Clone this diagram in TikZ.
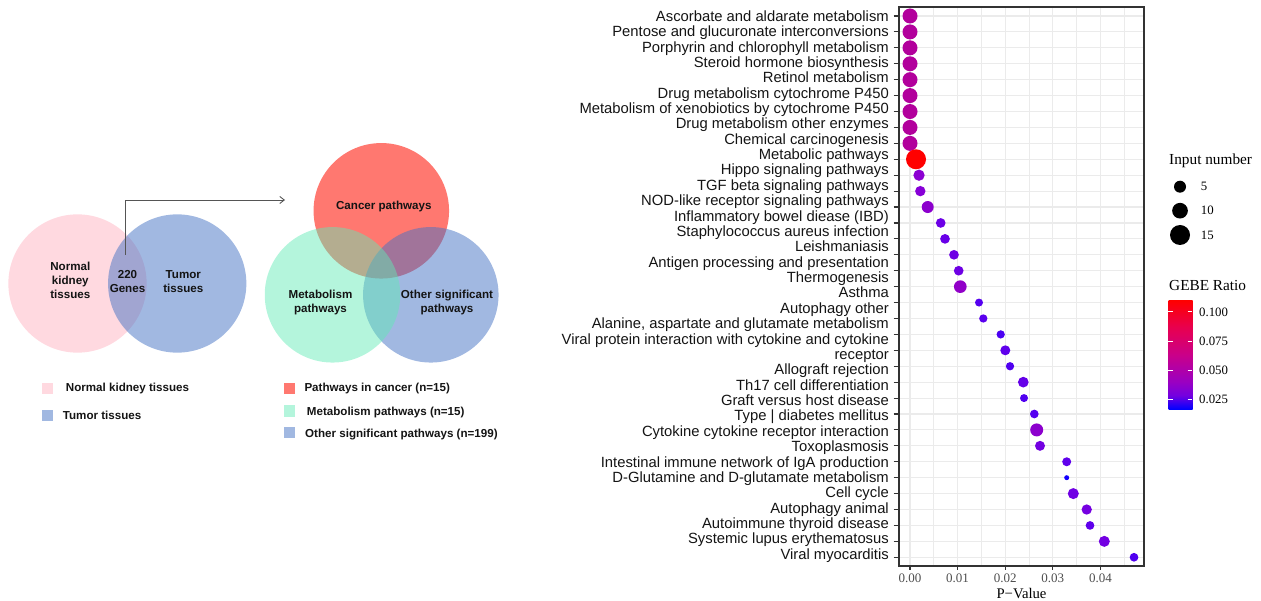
\documentclass[tikz,border=0pt]{standalone}
\usepackage{fontspec}
\setmainfont{Liberation Serif}
\newfontfamily\arialf{Liberation Sans}
\usetikzlibrary{arrows.meta}

\definecolor{pinkc}{RGB}{255,217,224}
\definecolor{bluec}{RGB}{68,114,196}
\definecolor{bluel}{RGB}{161,184,225}
\definecolor{redc}{RGB}{255,120,112}
\definecolor{greenc}{RGB}{96,234,181}
\definecolor{greenl}{RGB}{180,245,220}
\definecolor{gridc}{RGB}{235,235,235}
\definecolor{axisc}{RGB}{51,51,51}
\definecolor{ticklab}{RGB}{77,77,77}
\definecolor{arrowc}{RGB}{85,85,85}
\definecolor{txtc}{RGB}{20,20,20}
\definecolor{gc12}{RGB}{115,0,224}
\definecolor{gc25}{RGB}{154,0,194}
\definecolor{gc50}{RGB}{202,0,137}
\definecolor{gc75}{RGB}{232,0,79}
\definecolor{gblue}{RGB}{0,0,255}
\definecolor{gred}{RGB}{255,0,0}
\pgfdeclareverticalshading{gebe}{100bp}{color(0bp)=(gblue); color(25bp)=(gblue); color(31.25bp)=(gc12); color(37.5bp)=(gc25); color(50bp)=(gc50); color(62.5bp)=(gc75); color(75bp)=(gred); color(100bp)=(gred)}

\newcommand\plab[3]{\node[plabel] (#2) at (889,{21.3+(#1-1)*15.37}) {#3};}

\begin{document}
\begin{tikzpicture}[x=1pt,y=-1pt,
  venn/.style={circle, inner sep=0pt, draw=none, minimum size=138.3pt},
  venntwo/.style={circle, inner sep=0pt, draw=none, minimum size=135.5pt},
  vtext/.style={align=center, inner sep=0pt, text=txtc, font=\arialf\bfseries\fontsize{11.6}{14}\selectfont},
  ltext/.style={anchor=base west, inner sep=0pt, text=txtc, font=\arialf\bfseries\fontsize{11.6}{14}\selectfont},
  sq/.style={rectangle, inner sep=0pt, draw=none, minimum size=11.5pt},
  arrowline/.style={draw=arrowc, line width=0.9pt, -{Straight Barb[length=4.5pt,width=7pt]}},
  plabel/.style={anchor=base east, inner sep=0pt, text=txtc, font=\arialf\fontsize{14.8}{15.4}\selectfont},
  gridmajor/.style={draw=gridc, line width=1.1pt},
  gridminor/.style={draw=gridc, line width=0.7pt},
  panel/.style={draw=axisc, line width=1.1pt},
  tickmark/.style={draw=axisc, line width=1.1pt},
  xlab/.style={anchor=base, inner sep=0pt, text=ticklab, font=\fontsize{13}{15}\selectfont},
  dot/.style={circle, inner sep=0pt, draw=none},
  legtitle/.style={anchor=base west, inner sep=0pt, text=black, font=\fontsize{15.3}{17}\selectfont},
  leglab/.style={anchor=base west, inner sep=0pt, text=black, font=\fontsize{12.8}{15}\selectfont},
  cbtick/.style={draw=white, line width=0.8pt}
]
\useasboundingbox (0,0) rectangle (1261,601);

% ---------- first Venn ----------
\node[venn, fill=pinkc] (normal) at (77.5,283.5) {};
\node[venn, fill=bluec, fill opacity=0.5] (tumor) at (177.2,283.5) {};
\node[vtext] (normaltxt) at (70.3,280.6) {Normal\\kidney\\tissues};
\node[vtext] (genes) at (127.5,281.5) {220\\Genes};
\node[vtext] (tumortxt) at (183.3,281.5) {Tumor\\tissues};

\coordinate (arrowstart) at (125,255);
\coordinate (arrowend) at (285,200);
\draw[arrowline] (arrowstart) |- (arrowend);

% ---------- second Venn ----------
\node[venntwo, fill=redc] (cancer) at (381.3,210.8) {};
\node[venntwo, fill=bluec, fill opacity=0.5] (other) at (430.8,294.8) {};
\node[venntwo, fill=greenc, fill opacity=0.47] (metab) at (332.5,294.8) {};
\node[vtext] (cancertxt) at (383.8,206.1) {Cancer pathways};
\node[vtext] (metabtxt) at (320.5,302.6) {Metabolism\\pathways};
\node[vtext] (othertxt) at (447,302.6) {Other significant\\pathways};

% ---------- Venn legends ----------
\node[sq, fill=pinkc] (lgnormal) at (47.5,388.7) {};
\node[ltext] (lgnormaltxt) at (65.7,391.8) {Normal kidney tissues};
\node[sq, fill=bluel] (lgtumor) at (47.5,415.5) {};
\node[ltext] (lgtumortxt) at (62.7,419.4) {Tumor tissues};
\node[sq, fill=redc] (lgcancer) at (289.7,388.3) {};
\node[ltext] (lgcancertxt) at (304.3,391.8) {Pathways in cancer (n=15)};
\node[sq, fill=greenl] (lgmetab) at (289.7,411) {};
\node[ltext] (lgmetabtxt) at (306.7,415.1) {Metabolism pathways (n=15)};
\node[sq, fill=bluel] (lgother) at (289.7,432.7) {};
\node[ltext] (lgothertxt) at (305,437.1) {Other significant pathways (n=199)};

% ---------- dot plot panel ----------
\fill[white] (899,7) rectangle (1144,566);
\foreach \k in {0,...,4} {
  \draw[gridminor] ({933.8+\k*47.6},7) -- ({933.8+\k*47.6},566);
}
\foreach \i in {1,...,35} {
  \draw[gridmajor] (899,{16+(\i-1)*15.92}) -- (1144,{16+(\i-1)*15.92});
  \draw[tickmark] (893.5,{16+(\i-1)*15.92}) -- (899,{16+(\i-1)*15.92});
}
\foreach \k/\t in {0/0.00,1/0.01,2/0.02,3/0.03,4/0.04} {
  \draw[gridmajor] ({910+\k*47.6},7) -- ({910+\k*47.6},566);
  \draw[tickmark] ({910+\k*47.6},566) -- ({910+\k*47.6},569.5);
  \node[xlab] (xt\k) at ({910+\k*47.6},582.7) {\t};
}
\foreach \i/\xx/\dd/\cr/\cb in {
  1/910/15pt/178/156, 2/910/15pt/178/156, 3/910/15pt/178/156,
  4/910/15pt/178/156, 5/910/15pt/178/156, 6/910/15pt/178/156,
  7/910/15pt/178/156, 8/910/15pt/178/156, 9/910/15pt/178/156,
  10/916/20pt/255/0, 11/919/11.3pt/140/210, 12/920.3/10.4pt/135/215,
  13/927.7/12pt/140/205, 14/940.7/9.7pt/108/230, 15/945/9.7pt/105/232,
  16/954/9.7pt/110/228, 17/958.7/9.7pt/110/228, 18/960.3/12.7pt/145/200,
  19/979/8pt/85/240, 20/983.3/8.3pt/90/238, 21/1000.7/8.3pt/75/242,
  22/1005.3/10pt/95/236, 23/1010/8.3pt/80/240, 24/1023.3/10.7pt/100/232,
  25/1024/8pt/80/240, 26/1034.3/8.7pt/85/240, 27/1036.7/13pt/140/205,
  28/1040/10pt/115/225, 29/1066.7/9pt/95/236, 30/1066.7/5pt/20/255,
  31/1073.3/11pt/112/228, 32/1086.7/10.3pt/118/225, 33/1090/8.7pt/95/236,
  34/1104.3/11pt/115/226, 35/1134/8.7pt/80/240} {
  \node[dot, minimum size=\dd, fill={rgb,255:red,\cr;green,0;blue,\cb}] (d\i) at (\xx,{16+(\i-1)*15.92}) {};
}
\draw[panel] (899,7) rectangle (1144,566);
\node[anchor=base, inner sep=0pt, font=\fontsize{14.7}{16}\selectfont] (xtitle) at (1021.5,598) {P−Value};

% ---------- row labels ----------
\plab{1}{l1}{Ascorbate and aldarate metabolism}
\plab{2}{l2}{Pentose and glucuronate interconversions}
\plab{3}{l3}{Porphyrin and chlorophyll metabolism}
\plab{4}{l4}{Steroid hormone biosynthesis}
\plab{5}{l5}{Retinol metabolism}
\plab{6}{l6}{Drug metabolism cytochrome P450}
\plab{7}{l7}{Metabolism of xenobiotics by cytochrome P450}
\plab{8}{l8}{Drug metabolism other enzymes}
\plab{9}{l9}{Chemical carcinogenesis}
\plab{10}{l10}{Metabolic pathways}
\plab{11}{l11}{Hippo signaling pathways}
\plab{12}{l12}{TGF beta signaling pathways}
\plab{13}{l13}{NOD-like receptor signaling pathways}
\plab{14}{l14}{Inflammatory bowel diease (IBD)}
\plab{15}{l15}{Staphylococcus aureus infection}
\plab{16}{l16}{Leishmaniasis}
\plab{17}{l17}{Antigen processing and presentation}
\plab{18}{l18}{Thermogenesis}
\plab{19}{l19}{Asthma}
\plab{20}{l20}{Autophagy other}
\plab{21}{l21}{Alanine, aspartate and glutamate metabolism}
\plab{22}{l22}{Viral protein interaction with cytokine and cytokine}
\plab{23}{l22b}{receptor}
\plab{24}{l23}{Allograft rejection}
\plab{25}{l24}{Th17 cell differentiation}
\plab{26}{l25}{Graft versus host disease}
\plab{27}{l26}{Type | diabetes mellitus}
\plab{28}{l27}{Cytokine cytokine receptor interaction}
\plab{29}{l28}{Toxoplasmosis}
\plab{30}{l29}{Intestinal immune network of IgA production}
\plab{31}{l30}{D-Glutamine and D-glutamate metabolism}
\plab{32}{l31}{Cell cycle}
\plab{33}{l32}{Autophagy animal}
\plab{34}{l33}{Autoimmune thyroid disease}
\plab{35}{l34}{Systemic lupus erythematosus}
\plab{36}{l35}{Viral myocarditis}

% ---------- size legend ----------
\node[legtitle] (sizetitle) at (1169,165) {Input number};
\node[dot, fill=black, minimum size=12pt] (s5) at (1180,186.7) {};
\node[dot, fill=black, minimum size=15.7pt] (s10) at (1180,210.7) {};
\node[dot, fill=black, minimum size=20pt] (s15) at (1180,235) {};
\node[leglab] (s5txt) at (1200.7,191) {5};
\node[leglab] (s10txt) at (1200.7,215) {10};
\node[leglab] (s15txt) at (1200.7,239.3) {15};

% ---------- colour legend ----------
\node[legtitle] (coltitle) at (1169,290.7) {GEBE Ratio};
\node[rectangle, inner sep=0pt, minimum width=24pt, minimum height=109pt, shading=gebe, anchor=north west] (cbar) at (1168.3,300) {};
\foreach \yy/\t in {311.7/0.100, 341/0.075, 370/0.050, 399/0.025} {
  \draw[cbtick] (1168.3,\yy) -- (1173,\yy);
  \draw[cbtick] (1187.6,\yy) -- (1192.3,\yy);
  \node[leglab] at (1199,{\yy+4.4}) {\t};
}
\end{tikzpicture}
\end{document}
